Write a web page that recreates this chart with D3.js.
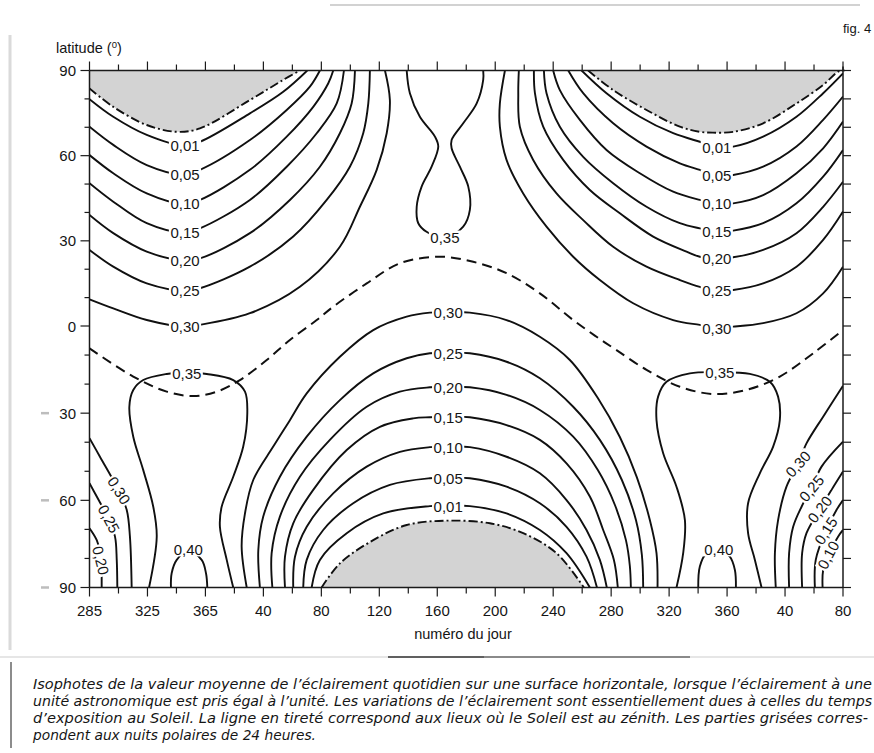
<!DOCTYPE html>
<html><head><meta charset="utf-8">
<script src="https://cdn.jsdelivr.net/npm/d3@7"></script>
<style>
body{margin:0;background:#fff;}
svg{display:block;}
text{font-family:"Liberation Sans",Arial,Helvetica,sans-serif;fill:#151515;}
</style></head><body>
<svg id="c" width="874" height="753"></svg>
<script>
// ---------- axes data ----------
const dayTicks = [0,40,80,120,160,200,240,280,320,360,400,440,480,520]; // days since day 285
const dayLabels = ["285","325","365","40","80","120","160","200","240","280","320","360","40","80"];
const latTicks = [90,60,30,0,-30,-60,-90];

// ---------- polar nights (dash-dot boundary), [day offset, latitude] ----------
const polarNorthA = [[0,83.7],[16.4,77.2],[39.5,70.8],[60.2,68.4],[76.2,69.6],[110.7,79.6],[133.7,86.7],[145.2,90]];
const polarNorthB = [[344.1,90],[361.4,83.1],[384.4,76.1],[407.4,70.2],[421.2,68.4],[430.2,68.1],[444.2,68.4],[464.9,71.4],[487.9,78.4],[506.3,84.9],[516.6,89.6],[520,90]];
const polarSouth  = [[160.2,-90],[172.8,-81.7],[195.8,-73.7],[218.9,-68.5],[246.4,-67.0],[276.3,-67.9],[299.3,-71.3],[322.3,-78.2],[341.2,-90]];

// ---------- subsolar latitude (dashed) ----------
const zenith = [[0,-7.7],[30.2,-17.4],[53.3,-22.6],[71.6,-24.1],[87.8,-22.6],[103.8,-18.6],[122.3,-11.7],[138.3,-4.8],[156.8,2.1],[168.2,6.8],[191.3,15.0],[214.2,22.1],[241.8,24.4],[264.8,22.6],[287.8,18.6],[310.8,11.5],[333.8,2.1],[349.9,-3.7],[363.7,-8.3],[384.4,-15.1],[407.4,-20.9],[430.4,-23.4],[453.4,-22.0],[476.4,-17.4],[499.4,-9.4],[520,-1.4]];

// ---------- isophotes: northern winter (left) ----------
const winterNorthA = [
 [[0,79.9],[16.4,73.7],[39.5,67.3],[65,63.6],[76.2,64.9],[110.7,74.9],[133.7,82.5],[150.3,90]],
 [[0,70.2],[16.4,63.8],[39.5,56.7],[65,53.3],[76.2,55.0],[110.7,65.5],[136.1,76.1],[152.1,84.3],[159,90]],
 [[0,60.2],[16.4,53.8],[39.5,46.7],[65,43.0],[76.2,44.4],[110.7,55.0],[136.1,66.7],[154.4,77.2],[164.8,85.5],[168.2,90]],
 [[0,50.3],[16.4,43.8],[39.5,36.2],[65,32.9],[76.2,34.4],[110.7,44.4],[136.1,56.1],[156.8,67.9],[170.6,78.4],[175.6,90]],
 [[0,39.1],[16.4,32.7],[39.5,26.2],[65,23.1],[76.2,23.8],[110.7,32.7],[138.3,44.4],[159,56.1],[172.8,67.9],[180.9,78.4],[183.2,90]],
 [[0,26.8],[16.4,20.9],[39.5,15.0],[65.9,12.4],[76.2,13.3],[110.7,20.9],[140.6,31.5],[163.7,44.4],[179.7,56.1],[188.9,67.9],[192.4,78.4],[193.5,90]],
 [[0,9.4],[16.4,6.2],[39.5,2.1],[65.9,-0.2],[76.2,0.4],[110.7,4.5],[145.2,13.8],[172.8,27.9],[186.6,42.0],[198.2,55.0],[205.1,67.9],[207.3,79.6],[203.9,90]]
];
// ---------- isophotes: northern winter (right) ----------
const winterNorthB = [
 [[339.6,90],[356.8,82.0],[379.8,73.7],[402.8,67.9],[421.2,64.9],[432.9,63.2],[444.2,63.2],[464.9,66.7],[487.9,73.7],[506.3,82.0],[520,89.0]],
 [[330.4,90],[340.7,82.0],[361.4,71.4],[384.4,63.2],[407.4,57.3],[421.2,55.0],[432.9,53.0],[444.2,53.2],[464.9,56.1],[487.9,63.2],[506.3,72.6],[520,80.8]],
 [[320,90],[324.6,83.1],[338.4,72.6],[356.8,62.0],[379.8,53.8],[402.8,47.3],[421.2,44.4],[432.9,43.1],[444.2,43.2],[464.9,46.1],[487.9,53.8],[506.3,62.6],[520,72.0]],
 [[313.6,90],[315.4,82.0],[324.6,70.2],[340.7,59.6],[361.4,50.3],[384.4,42.0],[407.4,36.2],[421.2,34.4],[432.9,33.3],[444.2,33.6],[464.9,36.2],[487.9,43.2],[506.3,52.6],[520,62.0]],
 [[306.7,90],[307.4,82.0],[313.1,70.2],[326.9,58.5],[345.3,47.9],[366,39.7],[389,31.5],[412,26.2],[421.2,24.4],[432.9,23.9],[444.2,24.2],[464.9,26.8],[487.9,32.7],[506.3,42.0],[520,50.8]],
 [[296.3,90],[295.9,82.0],[297,70.2],[306.2,58.5],[322.3,46.7],[340.7,37.3],[361.4,27.9],[384.4,20.9],[407.4,16.2],[421.2,13.8],[432.9,12.5],[444.2,12.7],[464.9,15.0],[487.9,20.9],[506.3,30.3],[520,40.3]],
 [[286.7,90],[283.2,78.4],[283.2,70.2],[287.8,58.5],[299.3,46.7],[315.4,35.0],[333.8,24.4],[352.2,16.2],[375.2,8.0],[402.8,2.1],[421.2,0.4],[432.9,-0.5],[444.2,-0.2],[464.9,1.0],[487.9,4.5],[506.3,11.5],[520,20.9]]
];
// ---------- isophote 0,35 near the northern summer ----------
const summerNorth35 = [[218.9,90],[221.1,82.0],[228.0,73.7],[238.4,66.7],[240.7,63.2],[236.1,56.1],[229.2,49.1],[225.8,42.0],[226.9,36.2],[232.6,33.2],[245.3,31.0],[257.9,35.0],[262.5,40.9],[261.4,49.1],[255.6,56.1],[249.9,62.6],[249.9,65.5],[257.9,71.4],[267.2,78.4],[271.7,86.7],[271.7,90]];
// ---------- isophotes: southern winter (arches 0,01 ... 0,30) ----------
const winterSouth = [
 [[153.3,-90],[159,-80.5],[177.5,-71.3],[202.7,-64.5],[234.9,-62.0],[248.2,-61.8],[262.5,-62.0],[287.8,-64.5],[310.8,-70.2],[329.2,-78.2],[345.3,-90]],
 [[147.5,-90],[149.9,-80.5],[161.3,-70.2],[182,-61.0],[207.3,-54.7],[234.9,-52.4],[248.2,-52.2],[262.5,-52.4],[287.8,-55.3],[310.8,-61.0],[329.2,-69.1],[343,-79.4],[350.2,-90]],
 [[140.6,-90],[141.8,-79.4],[149.9,-69.1],[168.2,-57.6],[191.3,-48.4],[214.2,-43.3],[234.9,-41.7],[248.2,-41.5],[262.5,-41.7],[287.8,-45.0],[310.8,-50.7],[329.2,-59.9],[343,-70.2],[352.2,-80.5],[357,-90]],
 [[134.9,-90],[134.9,-79.4],[140.6,-67.9],[154.4,-56.4],[177.5,-42.7],[200.4,-34.7],[223.4,-31.8],[234.9,-31.4],[248.2,-31.2],[262.5,-31.4],[287.8,-34.1],[310.8,-39.2],[329.2,-47.3],[345.3,-58.7],[354.5,-70.2],[361.9,-80.5],[364.6,-90]],
 [[126.2,-90],[125.7,-78.2],[131.4,-65.6],[145.2,-51.9],[165.9,-39.2],[191.3,-27.8],[214.2,-22.6],[234.9,-21.1],[248.2,-20.9],[262.5,-21.1],[287.8,-23.7],[310.8,-28.9],[333.8,-38.1],[350.8,-49.6],[362.6,-61.6],[370.2,-73.7],[372.9,-82.6],[373.6,-90]],
 [[117.6,-90],[116.5,-77.1],[119.9,-65.6],[131.4,-51.9],[149.9,-38.1],[172.8,-25.5],[195.8,-16.3],[218.9,-11.1],[234.9,-9.4],[248.2,-9.2],[262.5,-9.4],[287.8,-12.3],[310.8,-18.0],[333.8,-27.8],[352.2,-39.2],[367.4,-53.0],[377.1,-66.8],[381.2,-78.8],[382.1,-90]],
 [[108.5,-90],[105,-76.0],[107.3,-64.5],[113,-53.0],[126.8,-41.5],[138.3,-32.4],[149.9,-23.2],[172.8,-10.6],[195.8,-1.4],[218.9,3.3],[234.9,4.7],[248.2,4.9],[262.5,4.7],[287.8,2.1],[310.8,-3.7],[331.5,-11.7],[350.8,-24.8],[366,-38.2],[377.7,-52.0],[386.7,-66.8],[391.3,-78.2],[392,-90]]
];
// ---------- isophotes: southern summer (0,35 and 0,40 loops) ----------
const summerSouth = [
 [[41.1,-90],[46.4,-72.5],[44,-62.2],[37.1,-49.6],[30.2,-38.1],[27.5,-27.8],[30.2,-22.0],[37.1,-18.6],[53.3,-16.5],[67.1,-16.0],[80.9,-16.5],[99.2,-18.6],[107.3,-22.6],[108.9,-30.0],[106.1,-41.5],[99.2,-51.9],[91.2,-62.2],[90,-69.1],[94.7,-80.5],[99.2,-90]],
 [[405.1,-90],[409.7,-78.2],[410.9,-66.8],[405.1,-55.3],[395.9,-43.8],[391.3,-32.4],[392.4,-24.3],[398.2,-19.2],[414.3,-16.3],[435,-15.9],[455.7,-16.5],[469.5,-19.2],[475.2,-24.3],[476.4,-32.4],[471.8,-41.5],[462.6,-50.7],[454.5,-61.0],[454.5,-71.3],[459.2,-80.5],[463.8,-90]],
 [[56.2,-90],[56.7,-85.1],[60.2,-80.5],[68.2,-77.3],[77.4,-80.5],[80.4,-85.1],[81.3,-90]],
 [[420.1,-90],[421.2,-82.8],[425.8,-78.2],[434.3,-77.1],[441.9,-79.4],[445.4,-84.0],[446.1,-90]]
];
// ---------- isophotes reaching the left / right edges in the south ----------
const edgeSouth = [
 [[0,-38.6],[7.2,-45.0],[19.9,-56.4],[25.7,-63.3],[27.9,-72.5],[29.1,-90]],
 [[0,-54.1],[5.0,-58.7],[13.0,-66.2],[17.6,-72.5],[18.8,-80.5],[19.2,-90]],
 [[0,-69.6],[5.0,-73.7],[8.4,-80.0],[8.4,-86.3],[8.4,-90]],
 [[473.6,-90],[473,-78.2],[475.2,-66.8],[481,-55.3],[489,-47.5],[494.8,-40.4],[506.3,-31.2],[520,-20.6]],
 [[482.8,-90],[482.8,-78.2],[485.6,-69.1],[491.4,-62.2],[498.3,-55.9],[505.2,-48.4],[520,-39.8]],
 [[491.8,-90],[491.8,-78.2],[494.8,-71.3],[504,-63.1],[512.1,-56.4],[520,-50.1]],
 [[500.6,-90],[501.2,-80.5],[508.2,-70.5],[515.5,-63.3],[520,-59.9]],
 [[505.9,-90],[506.3,-84.0],[509.8,-78.8],[516.6,-72.5],[520,-70.2]]
];

// ---------- contour labels ----------
const labelText = ["0,01","0,05","0,10","0,15","0,20","0,25","0,30"];
const labelLatNA = [63.6,53.3,43.0,32.9,23.1,12.4,-0.2];
const labelLatNB = [63.0,52.9,43.0,33.2,23.8,12.4,-0.8];
const labelLatS  = [-62.0,-52.4,-41.7,-31.4,-21.1,-9.4,4.7];
// text, day offset, latitude, rotation
const extraLabels = [
 ["0,35",245.3,31.3,0],["0,35",67.1,-16.3,0],["0,35",435,-16.1,0],
 ["0,40",68.2,-77.1,0],["0,40",434.3,-77.1,0],
 ["0,30",20.4,-56.6,58],["0,25",13.4,-66.4,62],["0,20",7.8,-80.7,76],
 ["0,30",489,-47.5,-48],["0,25",498.3,-55.9,-50],["0,20",504,-63.1,-52],["0,15",508.2,-70.5,-57],["0,10",509.8,-78.8,-62]
];

const captionLines = [
 "Isophotes de la valeur moyenne de l’éclairement quotidien sur une surface horizontale, lorsque l’éclairement à une",
 "unité astronomique est pris égal à l’unité. Les variations de l’éclairement sont essentiellement dues à celles du temps",
 "d’exposition au Soleil. La ligne en tireté correspond aux lieux où le Soleil est au zénith. Les parties grisées corres-",
 "pondent aux nuits polaires de 24 heures."
];

// ---------- drawing ----------
const svg = d3.select("#c");
const x = d3.scaleLinear().domain([0,520]).range([89.5,843]);
const y = d3.scaleLinear().domain([-90,0,90]).range([587.5,326,70.5]);
const line = d3.line().x(d=>x(d[0])).y(d=>y(d[1])).curve(d3.curveCatmullRom.alpha(0.5));
const INK = "#101010";

// page decorations (scan edges)
svg.append("line").attr("x1",10).attr("x2",10).attr("y1",35).attr("y2",650).attr("stroke","#dadada").attr("stroke-width",3);
svg.append("line").attr("x1",330).attr("x2",860).attr("y1",5).attr("y2",5).attr("stroke","#d2d2d2").attr("stroke-width",2);
svg.append("line").attr("x1",0).attr("x2",874).attr("y1",657).attr("y2",657).attr("stroke","#dedede").attr("stroke-width",1.5);
svg.append("line").attr("x1",388).attr("x2",484).attr("y1",657).attr("y2",657).attr("stroke","#333").attr("stroke-width",1.5);
svg.append("line").attr("x1",484).attr("x2",690).attr("y1",657).attr("y2",657).attr("stroke","#8a8a8a").attr("stroke-width",2);
svg.append("line").attr("x1",11).attr("x2",11).attr("y1",662).attr("y2",748).attr("stroke","#666").attr("stroke-width",1.5);

svg.append("clipPath").attr("id","plot").append("rect")
  .attr("x",x(0)).attr("y",y(90)).attr("width",x(520)-x(0)).attr("height",y(-90)-y(90));
const g = svg.append("g").attr("clip-path","url(#plot)");

// grey polar nights
[[polarNorthA,90],[polarNorthB,90],[polarSouth,-90]].forEach(([pts,edge])=>{
  g.append("path").attr("d", line(pts)+"L"+x(pts[0][0])+","+y(edge)+"Z")
   .attr("fill","#d3d3d3").attr("stroke","none");
});
// dash-dot boundaries
[polarNorthA,polarNorthB,polarSouth].forEach(pts=>{
  g.append("path").attr("d",line(pts)).attr("fill","none").attr("stroke",INK)
   .attr("stroke-width",1.9).attr("stroke-dasharray","9,3,2,3");
});
// zenith
g.append("path").attr("d",line(zenith)).attr("fill","none").attr("stroke",INK)
 .attr("stroke-width",2).attr("stroke-dasharray","10,6");
// solid isophotes
[...winterNorthA,...winterNorthB,summerNorth35,...winterSouth,...summerSouth,...edgeSouth].forEach(pts=>{
  g.append("path").attr("d",line(pts)).attr("fill","none").attr("stroke",INK).attr("stroke-width",1.9);
});

// frame
const fr = svg.append("g").attr("stroke","#1a1a1a").attr("stroke-width",1.5);
fr.append("line").attr("x1",x(0)).attr("x2",x(520)+2).attr("y1",y(90)).attr("y2",y(90));
fr.append("line").attr("x1",x(0)).attr("x2",x(520)).attr("y1",y(-90)).attr("y2",y(-90));
fr.append("line").attr("x1",x(0)).attr("x2",x(0)).attr("y1",y(90)).attr("y2",y(-90));
fr.append("line").attr("x1",x(520)).attr("x2",x(520)).attr("y1",y(90)-4).attr("y2",y(-90));
// ticks along days (every 20 days)
d3.range(0,521,20).forEach(t=>{
  const L = t%40===0 ? 9 : 6;
  fr.append("line").attr("x1",x(t)).attr("x2",x(t)).attr("y1",y(90)).attr("y2",y(90)-L).attr("stroke-width",1.2);
  fr.append("line").attr("x1",x(t)).attr("x2",x(t)).attr("y1",y(-90)).attr("y2",y(-90)+L).attr("stroke-width",1.2);
});
// ticks along latitude (every 10 degrees)
d3.range(-90,91,10).forEach(v=>{
  const major = v%30===0;
  fr.append("line").attr("x1",x(0)).attr("x2",x(0)-(major?9:5)).attr("y1",y(v)).attr("y2",y(v)).attr("stroke-width",1.2);
  fr.append("line").attr("x1",x(520)).attr("x2",x(520)+8).attr("y1",y(v)).attr("y2",y(v)).attr("stroke-width",1.2);
});
// tick labels
dayTicks.forEach((t,i)=>{
  svg.append("text").attr("x",x(t)).attr("y",616).attr("text-anchor","middle")
    .attr("font-size",15).text(dayLabels[i]);
});
latTicks.forEach(v=>{
  svg.append("text").attr("x",76).attr("y",y(v)+5.5).attr("text-anchor","end")
    .attr("font-size",15).text(Math.abs(v));
  if(v<0) svg.append("line").attr("x1",41).attr("x2",49).attr("y1",y(v)).attr("y2",y(v))
    .attr("stroke","#bdbdbd").attr("stroke-width",2.5);
});
// axis titles
const lt = svg.append("text").attr("x",56).attr("y",53).attr("font-size",14.5);
lt.append("tspan").text("latitude (");
lt.append("tspan").attr("font-size",9.5).attr("dy",-5).text("0");
lt.append("tspan").attr("dy",5).text(")");
svg.append("text").attr("x",463).attr("y",639).attr("text-anchor","middle").attr("font-size",14.5).text("numéro du jour");
svg.append("text").attr("x",843).attr("y",33).attr("font-size",13).text("fig. 4");

// contour labels
const labels = [];
labelText.forEach((s,i)=>{
  labels.push([s,65.9,labelLatNA[i],0]);
  labels.push([s,432.9,labelLatNB[i],0]);
  labels.push([s,247.5,labelLatS[i],0]);
});
extraLabels.forEach(l=>labels.push(l));
const lg = svg.append("g");
labels.forEach(([s,t,lat,rot])=>{
  const gg = lg.append("g").attr("transform",`translate(${x(t)},${y(lat)}) rotate(${rot})`);
  const tx = gg.append("text").attr("text-anchor","middle").attr("dy","0.36em").attr("font-size",15).text(s);
  const bb = tx.node().getBBox();
  gg.insert("rect","text").attr("x",bb.x-1.5).attr("y",bb.y+2).attr("width",bb.width+3).attr("height",bb.height-4).attr("fill","#fff");
});

// caption
const capW = [839,839,835,283];
captionLines.forEach((s,i)=>{
  svg.append("text").attr("x",33).attr("y",689+i*17).attr("font-size",14.5)
    .attr("font-style","italic")
    .style("font-family","'Liberation Sans Narrow','DejaVu Sans Condensed','Roboto Condensed',sans-serif")
    .attr("textLength",capW[i]).attr("lengthAdjust","spacingAndGlyphs").text(s);
});
</script>
</body></html>
